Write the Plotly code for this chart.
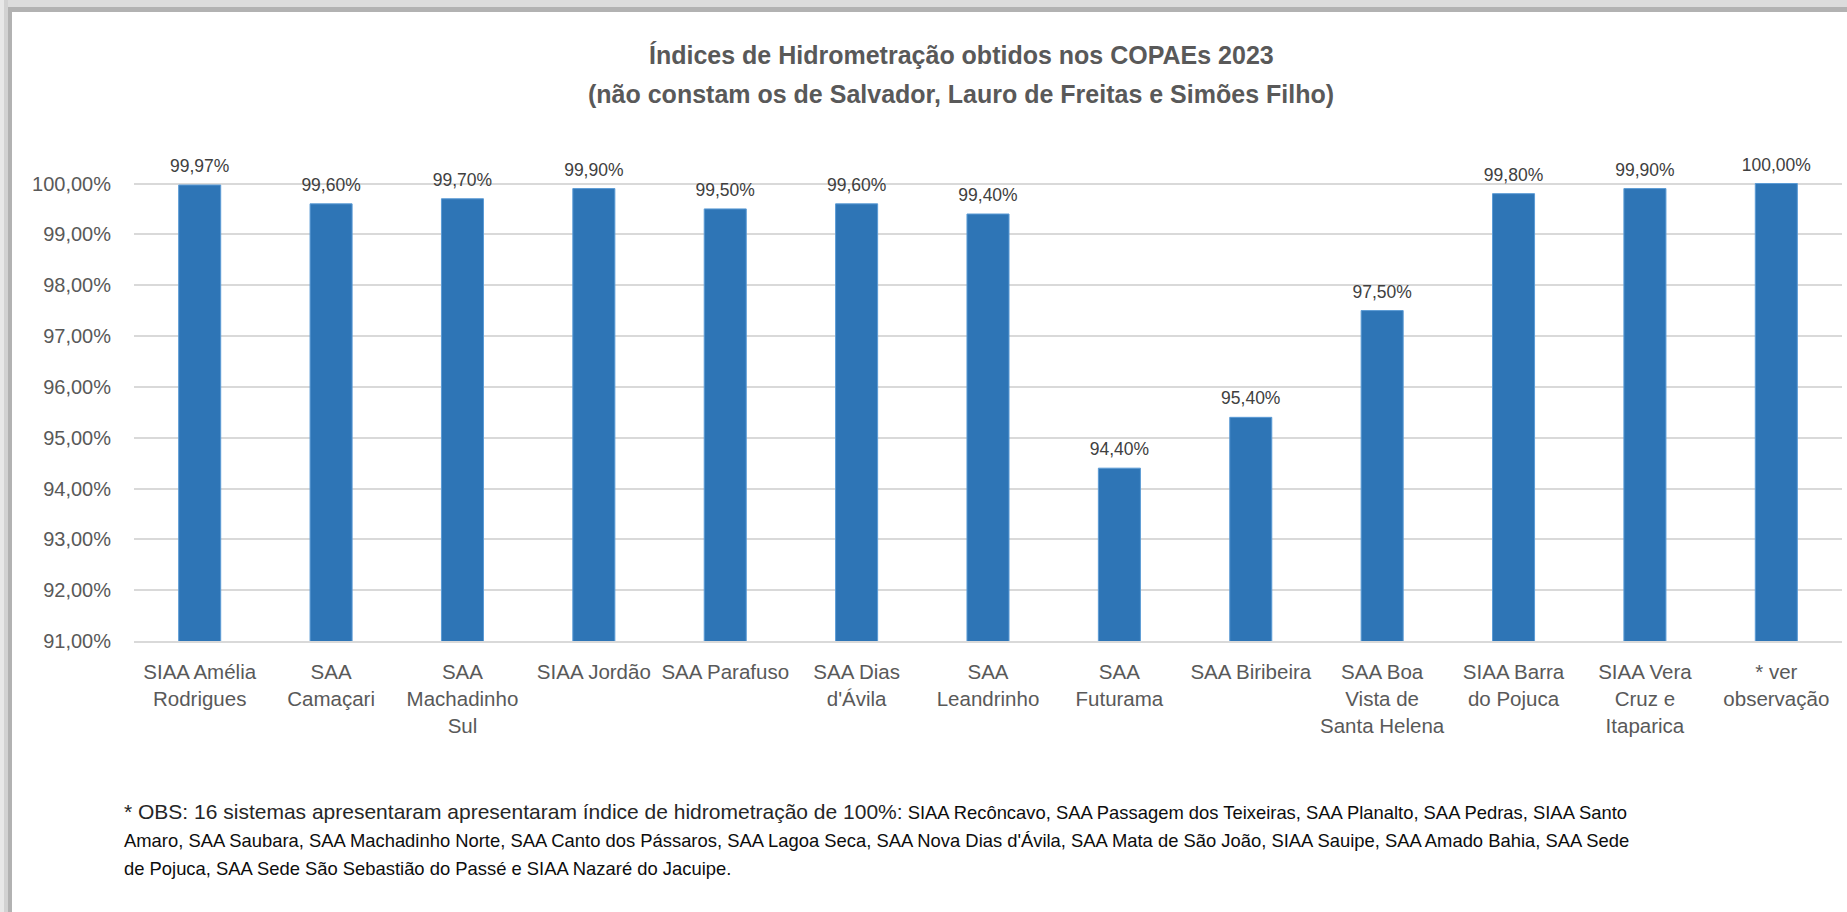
import plotly.graph_objects as go

categories = [
    "SIAA Amélia<br>Rodrigues",
    "SAA<br>Camaçari",
    "SAA<br>Machadinho<br>Sul",
    "SIAA Jordão",
    "SAA Parafuso",
    "SAA Dias<br>d'Ávila",
    "SAA<br>Leandrinho",
    "SAA<br>Futurama",
    "SAA Biribeira",
    "SAA Boa<br>Vista de<br>Santa Helena",
    "SIAA Barra<br>do Pojuca",
    "SIAA Vera<br>Cruz e<br>Itaparica",
    "* ver<br>observação",
]
values = [99.97, 99.60, 99.70, 99.90, 99.50, 99.60, 99.40, 94.40, 95.40, 97.50, 99.80, 99.90, 100.00]
y_tick_vals = [91, 92, 93, 94, 95, 96, 97, 98, 99, 100]
y_tick_text = ["91,00%", "92,00%", "93,00%", "94,00%", "95,00%",
               "96,00%", "97,00%", "98,00%", "99,00%", "100,00%"]

title_l1 = "Índices de Hidrometração obtidos nos COPAEs 2023"
title_l2 = "(não constam os de Salvador, Lauro de Freitas e Simões Filho)"
obs_head = "* OBS: 16 sistemas apresentaram apresentaram índice de hidrometração de 100%:"
obs_l1 = " SIAA Recôncavo, SAA Passagem dos Teixeiras, SAA Planalto, SAA Pedras, SIAA Santo"
obs_l2 = "Amaro, SAA Saubara, SAA Machadinho Norte, SAA Canto dos Pássaros, SAA Lagoa Seca, SAA Nova Dias d'Ávila, SAA Mata de São João, SIAA Sauipe, SAA Amado Bahia, SAA Sede"
obs_l3 = "de Pojuca, SAA Sede São Sebastião do Passé e SIAA Nazaré do Jacuipe."

FONT = "Liberation Sans, Arial, sans-serif"

W, H = 1847, 912
L, R, T, B = 134, 5, 153, 271
pw, ph = W - L - R, H - T - B

def px(x):
    return (x - L) / pw

def py(y):
    return (H - B - y) / ph

fig = go.Figure()
fig.add_trace(go.Bar(
    x=categories, y=values,
    marker=dict(color="#2E75B6", line=dict(color="#5B9BD5", width=1)),
    cliponaxis=True, hoverinfo="skip",
))
fig.add_trace(go.Scatter(
    x=categories, y=values, mode="markers+text",
    marker=dict(size=12, opacity=0),
    texttemplate="%{y:.2f}%", textposition="top center",
    textfont=dict(family=FONT, size=17.5, color="#404040"),
    cliponaxis=False, hoverinfo="skip",
))

shapes = [
    dict(type="rect", xref="paper", yref="paper", x0=px(0), x1=px(W), y0=py(0), y1=py(7),
         fillcolor="#DCDCDC", line_width=0, layer="above"),
    dict(type="rect", xref="paper", yref="paper", x0=px(0), x1=px(W), y0=py(7), y1=py(12),
         fillcolor="#B2B2B2", line_width=0, layer="above"),
    dict(type="rect", xref="paper", yref="paper", x0=px(0), x1=px(4), y0=py(0), y1=py(H),
         fillcolor="#E8E8E8", line_width=0, layer="above"),
    dict(type="rect", xref="paper", yref="paper", x0=px(4), x1=px(8), y0=py(0), y1=py(H),
         fillcolor="#D2D2D2", line_width=0, layer="above"),
    dict(type="rect", xref="paper", yref="paper", x0=px(8), x1=px(12), y0=py(7), y1=py(H),
         fillcolor="#B2B2B2", line_width=0, layer="above"),
]

def ann(text, x, y, size, color, xanchor="left", bold=False):
    return dict(text=f"<b>{text}</b>" if bold else text, xref="paper", yref="paper",
                x=px(x), y=py(y), xanchor=xanchor, yanchor="middle", align="left",
                showarrow=False, font=dict(family=FONT, size=size, color=color))

annotations = [
    ann(title_l1, 961, 55, 25, "#595959", xanchor="center", bold=True),
    ann(title_l2, 961, 94, 25, "#595959", xanchor="center", bold=True),
    ann(f"<span style='font-size:21px;color:#262626'>{obs_head}</span>{obs_l1}",
        122, 812, 18.4, "#0D0D0D"),
    ann(obs_l2, 122, 840, 18.4, "#0D0D0D"),
    ann(obs_l3, 122, 868, 18.4, "#0D0D0D"),
]

fig.update_layout(
    width=W, height=H,
    margin=dict(l=L, r=R, t=T, b=B, pad=0),
    paper_bgcolor="white", plot_bgcolor="white",
    separators=",.",
    showlegend=False,
    bargap=0.68,
    xaxis=dict(
        range=[-0.5, len(categories) - 0.5], autorange=False,
        tickfont=dict(family=FONT, size=20.5, color="#595959"),
        tickangle=0, automargin=False,
        showline=True, linecolor="#D9D9D9", linewidth=1.5,
        showgrid=False, ticks="", ticklabelstandoff=12,
    ),
    yaxis=dict(
        range=[91, 100.6], tickmode="array", tickvals=y_tick_vals, ticktext=y_tick_text,
        tickfont=dict(family=FONT, size=20, color="#595959"),
        automargin=False,
        showgrid=True, gridcolor="#D9D9D9", gridwidth=1.5,
        zeroline=False, showline=False, ticks="", ticklabelstandoff=22,
    ),
    shapes=shapes,
    annotations=annotations,
)

fig.write_html("out.html", config={"displayModeBar": False},
               post_script="document.body.style.margin='0px';")
